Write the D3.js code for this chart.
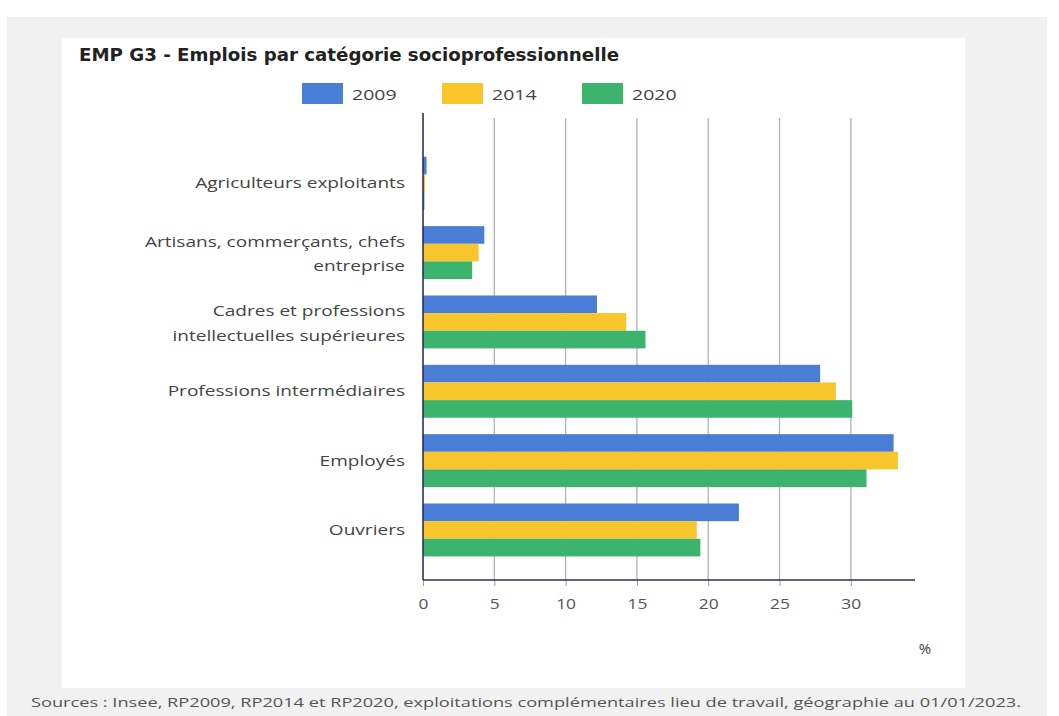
<!DOCTYPE html>
<html lang="fr">
<head>
<meta charset="utf-8">
<script src="https://cdn.jsdelivr.net/npm/d3@7"></script>
<style>
  html, body { margin: 0; padding: 0; background: #ffffff; }
  svg { display: block; }
</style>
</head>
<body>
<svg id="chart" width="1059" height="716"></svg>
<script>
// Categories (label lines) and shares of employment (%) per census year
const categoryLines = [
  ["Agriculteurs exploitants"],
  ["Artisans, commerçants, chefs", "entreprise"],
  ["Cadres et professions", "intellectuelles supérieures"],
  ["Professions intermédiaires"],
  ["Employés"],
  ["Ouvriers"]
];
const years = ["2009", "2014", "2020"];
const values2009 = [0.25, 4.3, 12.2, 27.85, 33.0, 22.15];
const values2014 = [0.15, 3.9, 14.25, 28.95, 33.3, 19.2];
const values2020 = [0.1, 3.45, 15.6, 30.1, 31.1, 19.45];
const tickValues = [0, 5, 10, 15, 20, 25, 30];
const seriesColors = ["#4a7dd5", "#f8c62c", "#3db46d"];

const titleText = "EMP G3 - Emplois par catégorie socioprofessionnelle";
const sourceText = "Sources : Insee, RP2009, RP2014 et RP2020, exploitations complémentaires lieu de travail, géographie au 01/01/2023.";

const categories = categoryLines.map(l => l.join(" "));
const series = [values2009, values2014, values2020];

// Widen a text run horizontally by factor k (wide typeface look)
function stretch(sel, k) {
  sel.each(function () {
    const w = this.getComputedTextLength();
    d3.select(this).attr("textLength", w * k).attr("lengthAdjust", "spacingAndGlyphs");
  });
}

const svg = d3.select("#chart");

// Page background and white card
svg.append("rect").attr("x", 0).attr("y", 0).attr("width", 1059).attr("height", 716).attr("fill", "#ffffff");
svg.append("rect").attr("x", 7).attr("y", 17).attr("width", 1040).attr("height", 699).attr("fill", "#f1f1f1");
svg.append("rect").attr("x", 62).attr("y", 38).attr("width", 903).attr("height", 650).attr("fill", "#ffffff");

// Title
svg.append("text")
  .attr("x", 79).attr("y", 61)
  .attr("font-family", "'DejaVu Sans Condensed', 'DejaVu Sans', sans-serif")
  .attr("font-weight", "bold")
  .attr("font-size", 17)
  .attr("fill", "#222")
  .attr("textLength", 540)
  .attr("lengthAdjust", "spacingAndGlyphs")
  .text(titleText);

// Scales
const plotTop = 113, plotBottom = 580;
const x = d3.scaleLinear().domain([0, 34.5]).range([423, 915]);
const y = d3.scaleBand().domain(categories).range([plotTop, plotBottom])
  .paddingInner(0.237).paddingOuter(0.486).align(0.65);
const ySub = d3.scaleBand().domain(years).range([0, y.bandwidth()]);

// Vertical gridlines
svg.append("g").selectAll("line")
  .data(tickValues.filter(t => t > 0))
  .join("line")
  .attr("x1", d => x(d)).attr("x2", d => x(d))
  .attr("y1", plotTop + 5).attr("y2", plotBottom)
  .attr("stroke", "#b3b3b3").attr("stroke-width", 1.3);

// Bars
const groups = svg.append("g").selectAll("g")
  .data(categories)
  .join("g")
  .attr("transform", d => `translate(0,${y(d)})`);

groups.selectAll("rect")
  .data((d, i) => years.map((yr, k) => ({ year: yr, value: series[k][i], k })))
  .join("rect")
  .attr("x", x(0))
  .attr("y", d => ySub(d.year))
  .attr("width", d => x(d.value) - x(0))
  .attr("height", ySub.bandwidth())
  .attr("fill", d => seriesColors[d.k]);

// Bottom axis with ticks
const xAxis = svg.append("g")
  .attr("transform", `translate(0,${plotBottom})`)
  .call(d3.axisBottom(x).tickValues(tickValues).tickSize(6).tickPadding(13).tickFormat(d3.format("d")));
xAxis.select(".domain").remove();
xAxis.selectAll(".tick line").attr("stroke", "#9a9a9a");
xAxis.selectAll(".tick text")
  .attr("font-family", "'Open Sans', sans-serif")
  .attr("font-size", 14.5)
  .attr("fill", "#555")
  .call(stretch, 1.2);

// Axis lines
svg.append("line")
  .attr("x1", x(0)).attr("x2", x(0)).attr("y1", plotTop).attr("y2", plotBottom)
  .attr("stroke", "#2c2f55").attr("stroke-width", 1.6);
svg.append("line")
  .attr("x1", x(0)).attr("x2", x.range()[1]).attr("y1", plotBottom).attr("y2", plotBottom)
  .attr("stroke", "#2c2f55").attr("stroke-width", 1.4);

// Category labels (right-aligned, one text per line)
const lineHeight = 24.5;
const labels = svg.append("g")
  .attr("font-family", "'Open Sans', sans-serif")
  .attr("font-size", 14)
  .attr("fill", "#444")
  .attr("text-anchor", "end");
categoryLines.forEach((lines, i) => {
  const cy = y(categories[i]) + y.bandwidth() / 2 + (lines.length > 1 ? 1.5 : 0);
  lines.forEach((ln, j) => {
    labels.append("text")
      .attr("x", 405)
      .attr("y", cy + (j - (lines.length - 1) / 2) * lineHeight)
      .attr("dy", "0.35em")
      .text(ln);
  });
});
labels.selectAll("text").call(stretch, 1.36);

// Unit label
svg.append("text")
  .attr("x", 925).attr("y", 654)
  .attr("text-anchor", "middle")
  .attr("font-family", "'Open Sans', sans-serif")
  .attr("font-size", 15)
  .attr("fill", "#444")
  .text("%");

// Legend
const legendX = [302, 442, 582];
const legend = svg.append("g");
years.forEach((yr, k) => {
  legend.append("rect")
    .attr("x", legendX[k]).attr("y", 83)
    .attr("width", 41).attr("height", 21)
    .attr("fill", seriesColors[k]);
  legend.append("text")
    .attr("x", legendX[k] + 50).attr("y", 95)
    .attr("dy", "0.35em")
    .attr("font-family", "'Open Sans', sans-serif")
    .attr("font-size", 15)
    .attr("fill", "#444")
    .text(yr)
    .call(stretch, 1.3);
});

// Source note
svg.append("text")
  .attr("x", 31).attr("y", 707)
  .attr("font-family", "'Open Sans', sans-serif")
  .attr("font-size", 13)
  .attr("fill", "#555")
  .attr("textLength", 990)
  .attr("lengthAdjust", "spacingAndGlyphs")
  .text(sourceText);
</script>
</body>
</html>
